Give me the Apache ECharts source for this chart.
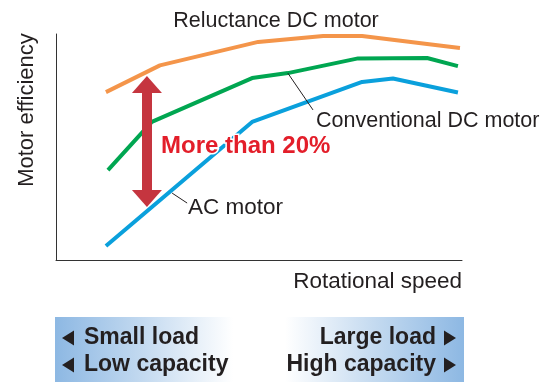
<!DOCTYPE html>
<html>
<head>
<meta charset="utf-8">
<script src="https://cdn.jsdelivr.net/npm/echarts@6/dist/echarts.min.js"></script>
<style>
html,body{margin:0;padding:0;background:#fff;}
#chart{width:540px;height:383px;}
</style>
</head>
<body>
<div id="chart"></div>
<script>
// Relative rotational speed (0-100) and relative motor efficiency (0-100)
const speedReluctance = [12.3, 25.6, 49.8, 65.8, 75.4, 91.4, 99.5];
const effReluctance   = [74.3, 86.1, 96.5, 99.1, 99.1, 95.6, 93.8];
const speedConventional = [12.8, 23.6, 48.3, 57.1, 74.4, 91.4, 99.0];
const effConventional   = [39.8, 61.1, 80.5, 82.7, 89.2, 89.4, 85.8];
const speedAC = [12.3, 48.3, 75.4, 83.0, 99.0];
const effAC   = [6.2, 61.1, 78.8, 80.3, 74.1];
// Efficiency gap arrow (x, top end, bottom end) and leader lines
const gapArrow = {x: 22.4, top: 77.7, bottom: 27.2};
const leaderConventional = [[57.1, 82.7], [63.3, 66.4]];
const leaderAC = [[28.6, 29.6], [32.3, 25.2]];
const seriesNames = ['Reluctance DC motor', 'Conventional DC motor', 'AC motor'];
const gapLabel = 'More than 20%';
const axisNames = {x: 'Rotational speed', y: 'Motor efficiency'};
const loadLabels = {left: ['Small load', 'Low capacity'], right: ['Large load', 'High capacity']};

const zip = (xs, ys) => xs.map((x, i) => [x, ys[i]]);
const FONT = '"Liberation Sans", Arial, sans-serif';
const TXT = '#231F20';

const chart = echarts.init(document.getElementById('chart'));
const leader = (pts) => ({
  silent: true, symbol: 'none', label: {show: false},
  lineStyle: {color: TXT, width: 1, type: 'solid'},
  emphasis: {disabled: true},
  data: [[{coord: pts[0]}, {coord: pts[1]}]]
});
const txt = (text, x, y, align, font, extra) => ({type: 'text', z: 10,
  style: Object.assign({text: text, x: x, y: y, textAlign: align, textVerticalAlign: 'middle', font: font, fill: TXT}, extra || {})});

const option = {
  animation: false,
  grid: {left: 56, right: 78, top: 34, bottom: 123},
  xAxis: {type: 'value', min: 0, max: 100, axisLine: {show: true, lineStyle: {color: '#333', width: 1}},
    axisTick: {show: false}, axisLabel: {show: false}, splitLine: {show: false}},
  yAxis: {type: 'value', min: 0, max: 100, axisLine: {show: true, lineStyle: {color: '#333', width: 1}},
    axisTick: {show: false}, axisLabel: {show: false}, splitLine: {show: false}},
  series: [
    {name: seriesNames[0], type: 'line', z: 2, symbol: 'none', data: zip(speedReluctance, effReluctance),
      lineStyle: {color: '#F4954A', width: 4}},
    {name: seriesNames[1], type: 'line', z: 2, symbol: 'none', data: zip(speedConventional, effConventional),
      lineStyle: {color: '#00A651', width: 4}, markLine: leader(leaderConventional)},
    {name: 'gap', type: 'line', z: 3, symbol: 'none', data: [],
      markLine: {
        silent: true, symbol: ['triangle', 'triangle'], symbolSize: [30, 17], label: {show: false},
        emphasis: {disabled: true},
        lineStyle: {color: '#C5353F', width: 10, type: 'solid', opacity: 1},
        itemStyle: {color: '#C5353F'},
        data: [[{coord: [gapArrow.x, gapArrow.top]}, {coord: [gapArrow.x, gapArrow.bottom]}]]
      }},
    {name: seriesNames[2], type: 'line', z: 4, symbol: 'none', data: zip(speedAC, effAC),
      lineStyle: {color: '#0AA0DC', width: 4}, markLine: leader(leaderAC)}
  ],
  graphic: [
    txt(seriesNames[0], 276, 21, 'center', '21.5px ' + FONT),
    txt(seriesNames[1], 316, 121, 'left', '21.5px ' + FONT),
    txt(seriesNames[2], 188, 208, 'left', '22.5px ' + FONT),
    txt(gapLabel, 161, 146, 'left', 'bold 24px ' + FONT, {fill: '#E31E2A', stroke: '#fff', lineWidth: 3}),
    {type: 'text', z: 10, rotation: Math.PI / 2, x: 27, y: 110, style: {text: axisNames.y, x: 0, y: 0, textAlign: 'center', textVerticalAlign: 'middle', font: '22px ' + FONT, fill: TXT}},
    txt(axisNames.x, 462, 282, 'right', '22.5px ' + FONT),
    {type: 'rect', z: 1, shape: {x: 55, y: 317, width: 178, height: 65},
      style: {fill: {type: 'linear', x: 0, y: 0, x2: 1, y2: 0, colorStops: [{offset: 0, color: '#8DB8E3'}, {offset: 0.5, color: '#C4DAF0'}, {offset: 1, color: '#FFFFFF'}]}}},
    {type: 'rect', z: 1, shape: {x: 285, y: 317, width: 179, height: 65},
      style: {fill: {type: 'linear', x: 0, y: 0, x2: 1, y2: 0, colorStops: [{offset: 0, color: '#FFFFFF'}, {offset: 0.5, color: '#C4DAF0'}, {offset: 1, color: '#8DB8E3'}]}}},
    {type: 'polygon', z: 10, shape: {points: [[62, 338], [74, 330.5], [74, 345.5]]}, style: {fill: TXT}},
    {type: 'polygon', z: 10, shape: {points: [[62, 365], [74, 357.5], [74, 372.5]]}, style: {fill: TXT}},
    {type: 'polygon', z: 10, shape: {points: [[456, 338], [444, 330.5], [444, 345.5]]}, style: {fill: TXT}},
    {type: 'polygon', z: 10, shape: {points: [[456, 365], [444, 357.5], [444, 372.5]]}, style: {fill: TXT}},
    txt(loadLabels.left[0], 84, 338, 'left', 'bold 23px ' + FONT),
    txt(loadLabels.left[1], 84, 365, 'left', 'bold 23px ' + FONT),
    txt(loadLabels.right[0], 436, 338, 'right', 'bold 23px ' + FONT),
    txt(loadLabels.right[1], 436, 365, 'right', 'bold 23px ' + FONT)
  ]
};
chart.setOption(option);
</script>
</body>
</html>
